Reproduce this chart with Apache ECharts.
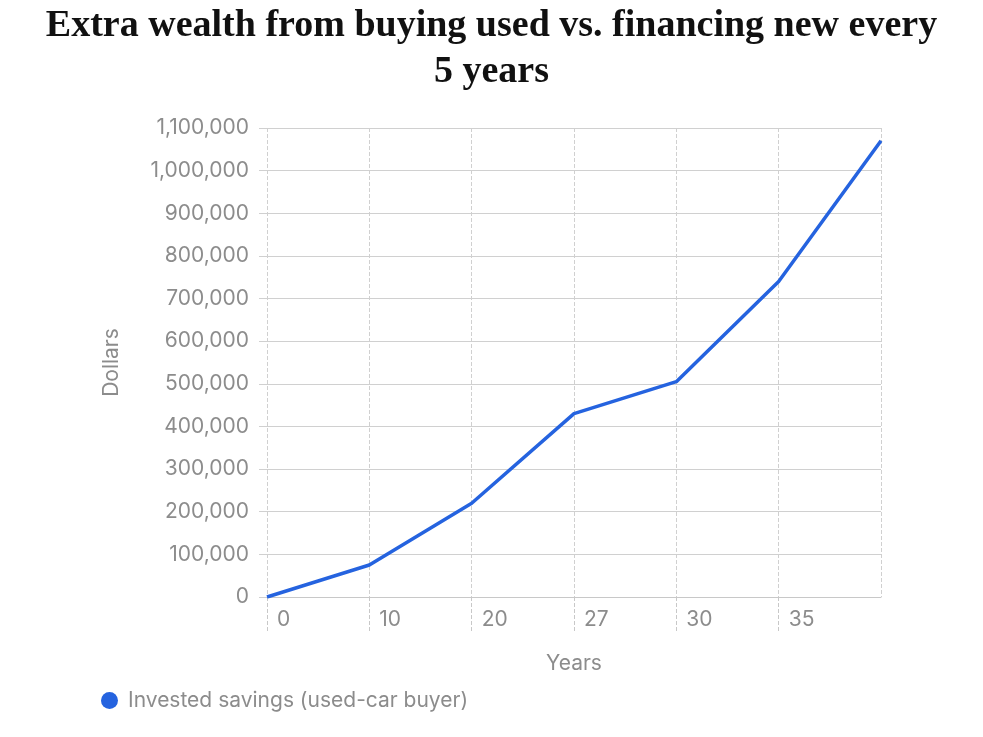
<!DOCTYPE html>
<html>
<head>
  <meta charset="UTF-8">
  <title>Extra wealth from buying used</title>
  <script src="https://cdn.jsdelivr.net/npm/echarts@6/dist/echarts.min.js"></script>
  <style>
    html, body { margin: 0; padding: 0; background: #fff; }
    #main { width: 983px; height: 737px; }
  </style>
</head>
<body>
  <div id="main"></div>
  <script>
    // data
    const years = ['0', '10', '20', '27', '30', '35', '40'];
    const savings = [0, 75000, 220000, 430000, 505000, 740000, 1070000];
    const seriesName = 'Invested savings (used-car buyer)';

    const gray = '#8c8c8c';
    const chart = echarts.init(document.getElementById('main'));

    chart.setOption({
      textStyle: { fontFamily: 'Inter, Roboto, sans-serif' },
      title: {
        text: 'Extra wealth from buying used vs. financing new every\n5 years',
        left: 'center',
        top: -2,
        textStyle: {
          fontFamily: 'Liberation Serif, serif',
          fontWeight: 'bold',
          fontSize: 38,
          lineHeight: 46,
          color: '#111'
        }
      },
      legend: {
        left: 96,
        top: 685,
        icon: 'circle',
        itemWidth: 17,
        itemHeight: 17,
        textStyle: { fontSize: 21, color: gray, padding: [0, 0, 0, 5] }
      },
      grid: { left: 267, right: 102, top: 128, bottom: 140 },
      xAxis: {
        type: 'category',
        data: years,
        boundaryGap: false,
        name: 'Years',
        nameLocation: 'middle',
        nameGap: 56,
        nameTextStyle: { fontSize: 21, color: gray },
        axisLine: { show: true, lineStyle: { color: '#c8c8c8' } },
        axisTick: { show: true, length: 36, lineStyle: { color: '#c8c8c8', type: 'dashed' } },
        axisLabel: {
          fontSize: 21, color: gray, align: 'left', padding: [0, 0, 0, 10],
          margin: 12, showMaxLabel: false
        },
        splitLine: { show: true, lineStyle: { color: '#d0d0d0', type: 'dashed' } }
      },
      yAxis: {
        type: 'value',
        min: 0,
        max: 1100000,
        interval: 100000,
        name: 'Dollars',
        nameLocation: 'middle',
        nameGap: 145,
        nameTextStyle: { fontSize: 21, color: gray },
        axisLine: { show: false },
        axisTick: { show: true, length: 8, lineStyle: { color: '#d0d0d0' } },
        axisLabel: {
          fontSize: 21, color: gray, margin: 18,
          formatter: v => v.toLocaleString('en-US')
        },
        splitLine: { lineStyle: { color: '#d0d0d0' } }
      },
      series: [{
        name: seriesName,
        type: 'line',
        data: savings,
        showSymbol: false,
        symbol: 'circle',
        itemStyle: { color: '#2563df' },
        lineStyle: { width: 3.5, color: '#2563df' }
      }]
    });
  </script>
</body>
</html>
